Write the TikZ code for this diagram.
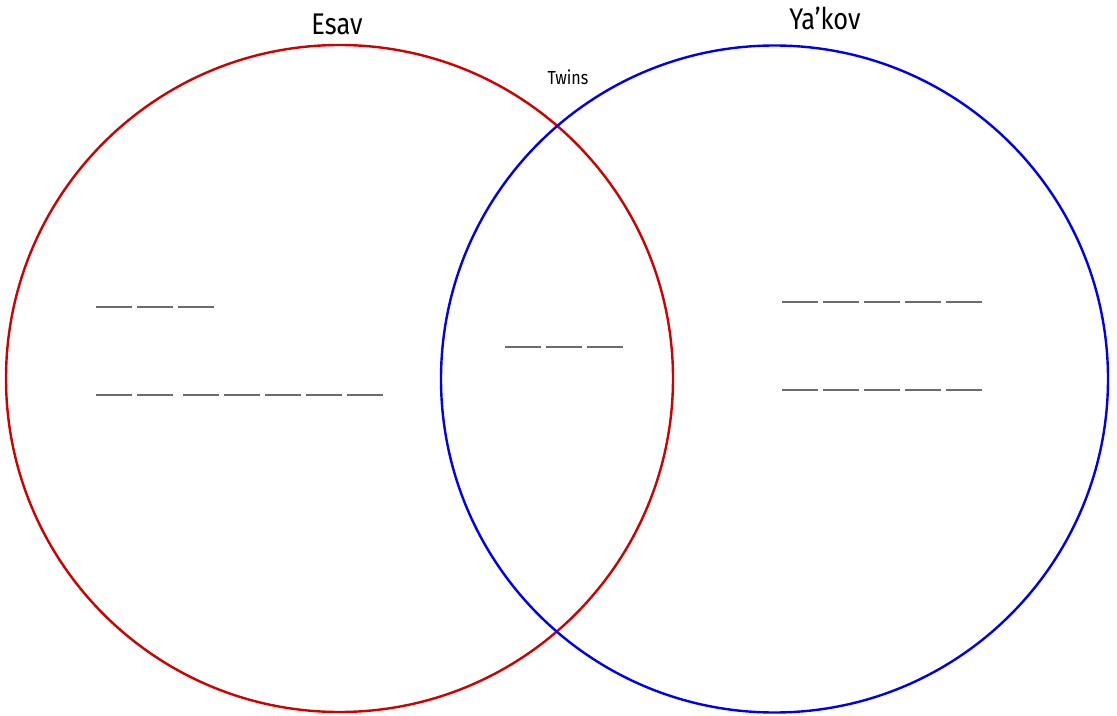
\documentclass[tikz,border=0pt]{standalone}
\usepackage{fontspec}
\setmainfont{Fira Sans}
\definecolor{esavred}{RGB}{208,0,0}
\definecolor{yakovblue}{RGB}{0,0,240}
\begin{document}
\begin{tikzpicture}[x=1bp,y=-1bp,
  ring/.style={line width=2.4bp},
  blank/.style={draw=gray!85!black, line width=1.2bp},
  title/.style={font=\fontsize{30}{30}\selectfont\addfontfeatures{FakeStretch=0.85}, inner sep=0pt},
  small/.style={font=\fontsize{19}{19}\selectfont\addfontfeatures{FakeStretch=0.85}, inner sep=0pt}]
\useasboundingbox (0,0) rectangle (1117,716);
\draw[ring, esavred] (339.5,378.5) circle[radius=333.5];
\draw[ring, yakovblue] (774.5,379) circle[radius=333.5];
\node[title] (esav) at (337,24) {Esav};
\node[title] (yakov) at (825,18) {Ya’kov};
\node[small] (twins) at (568,77) {Twins};
% blanks
\foreach \x in {96,137,178} \draw[blank] (\x,307) -- ++(36,0);
\foreach \x in {96,137,183,224,265,306,347} \draw[blank] (\x,395) -- ++(36,0);
\foreach \x in {505,546,587} \draw[blank] (\x,347) -- ++(36,0);
\foreach \x in {782,823,864,905,946} {
  \draw[blank] (\x,302) -- ++(36,0);
  \draw[blank] (\x,390) -- ++(36,0);
}
\end{tikzpicture}
\end{document}
